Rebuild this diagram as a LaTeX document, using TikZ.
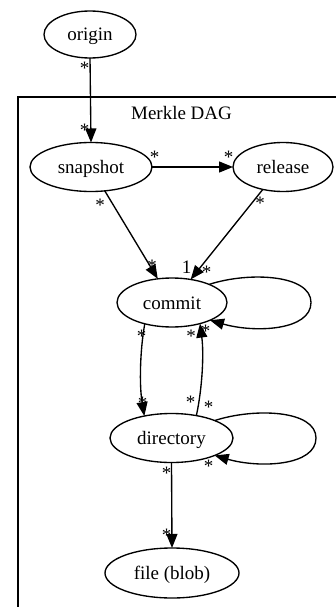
\documentclass[tikz,border=0pt]{standalone}
\usepackage{fontspec}
\setmainfont{Liberation Serif}
\usetikzlibrary{shapes.geometric,arrows.meta}
\begin{document}
\begin{tikzpicture}[x=1pt,y=1pt,
  every node/.style={font=\fontsize{19}{22}\selectfont},
  gnode/.style={ellipse,draw,line width=1.35pt,inner sep=0pt,outer sep=0pt,text height=17pt,text depth=4pt},
  conn/.style={line width=1.35pt,-{Triangle[length=14pt,width=11pt]}},
  lab/.style={anchor=base,inner sep=0pt},
  cluster/.style={draw,line width=1.35pt}]
\useasboundingbox (0,0) rectangle (336,-607);
\clip (0,0) rectangle (336,-607);
% cluster
\draw[cluster] (18,-620) -- (18,-97) -- (350,-97);
\node[lab] (clabel) at (181.5,-119.5) {Merkle DAG};
% nodes
\node[gnode,minimum width=92pt,minimum height=47pt] (origin) at (90,-34.5) {origin};
\node[gnode,minimum width=122pt,minimum height=49pt] (snapshot) at (91,-167) {snapshot};
\node[gnode,minimum width=100pt,minimum height=49pt] (release) at (283,-167) {release};
\node[gnode,minimum width=110pt,minimum height=49pt] (commit) at (172,-302.5) {commit};
\node[gnode,minimum width=123pt,minimum height=49pt] (directory) at (171.5,-438) {directory};
\node[gnode,minimum width=134pt,minimum height=50pt] (file) at (172,-573) {file (blob)};
% labels
\node[lab] (l1) at (84.5,-75) {*};
\node[lab] (l2) at (84.5,-136) {*};
\node[lab] (l3) at (154.5,-163.5) {*};
\node[lab] (l4) at (228.5,-163.5) {*};
\node[lab] (l5) at (100,-211) {*};
\node[lab] (l6) at (152,-272.5) {*};
\node[lab] (l7) at (260,-209.5) {*};
\node[lab] (l8) at (206.5,-278.5) {*};
\node[lab] (l1b) at (186.5,-273.5) {1};
\node[lab] (l9) at (141.5,-342.5) {*};
\node[lab] (l10) at (191,-342) {*};
\node[lab] (l11) at (205.5,-337.5) {*};
\node[lab] (l12) at (142.5,-409.5) {*};
\node[lab] (l13) at (190.5,-408.5) {*};
\node[lab] (l14) at (208.5,-413.5) {*};
\node[lab] (l15) at (208.5,-472.5) {*};
\node[lab] (l16) at (166.5,-479.5) {*};
\node[lab] (l17) at (166.5,-541) {*};
% edges
\draw[conn] (origin.south) -- (snapshot.north);
\draw[conn] (snapshot.east) -- (release.west);
\draw[conn] (snapshot.-60) -- (commit.121);
\draw[conn] (release.-132) -- (commit.51);
\draw[conn] (commit.26) .. controls +(40,13) and +(0,28) .. (311,-302.5) .. controls +(0,-28) and +(45,-13) .. (commit.-25);
\draw[conn] (commit.-142) .. controls +(-5,-28) and +(-5,30) .. (directory.141);
\draw[conn] (directory.42) .. controls +(6,28) and +(4,-30) .. (commit.-37);
\draw[conn] (directory.22) .. controls +(40,13) and +(0,28) .. (316,-438) .. controls +(0,-28) and +(45,-13) .. (directory.-22);
\draw[conn] (directory.south) -- (file.north);
\end{tikzpicture}
\end{document}
